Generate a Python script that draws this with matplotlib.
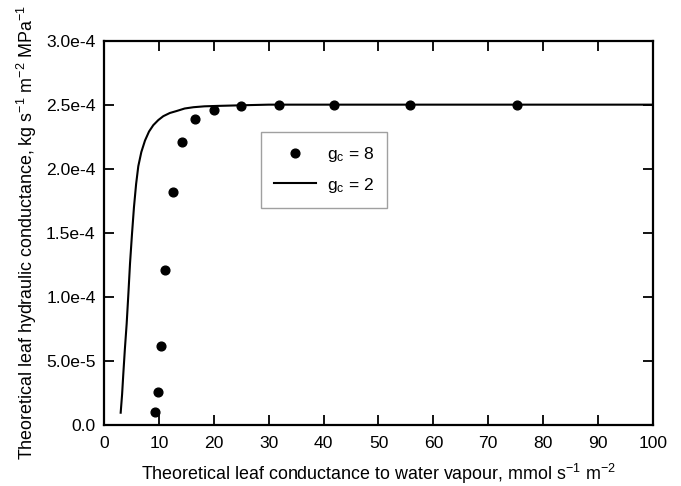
import matplotlib
matplotlib.use("Agg")
import matplotlib.pyplot as plt

plt.rcParams["font.family"] = ["Liberation Sans", "DejaVu Sans"]
plt.rcParams["mathtext.fontset"] = "custom"
plt.rcParams["mathtext.rm"] = "Liberation Sans"
plt.rcParams["mathtext.it"] = "Liberation Sans"

# --- data ---
# g_c = 8 : scattered points
gc8_x = [9.3, 9.8, 10.3, 11.2, 12.5, 14.2, 16.6, 20.1, 25.0, 31.9, 41.9, 55.7, 75.2]
gc8_y = [1.04e-5, 2.6e-5, 6.2e-5, 1.21e-4, 1.82e-4, 2.21e-4, 2.39e-4, 2.46e-4,
         2.49e-4, 2.495e-4, 2.5e-4, 2.5e-4, 2.5e-4]

# g_c = 2 : solid curve
gc2_x = [3.04, 3.3, 3.52, 3.8, 4.13, 4.45, 4.74, 5.1, 5.46, 5.85, 6.25, 6.8,
         7.47, 8.2, 8.98, 9.9, 10.8, 12.0, 13.2, 14.7, 16.3, 18.3, 20.5, 25.0,
         30.0, 50.0, 100.0]
gc2_y = [0.96e-5, 2.4e-5, 4.0e-5, 5.9e-5, 7.9e-5, 1.03e-4, 1.26e-4, 1.49e-4,
         1.70e-4, 1.88e-4, 2.02e-4, 2.13e-4, 2.22e-4, 2.29e-4, 2.34e-4,
         2.38e-4, 2.41e-4, 2.435e-4, 2.45e-4, 2.47e-4, 2.48e-4, 2.487e-4,
         2.49e-4, 2.495e-4, 2.5e-4, 2.5e-4, 2.5e-4]

x_ticks = list(range(0, 101, 10))
y_ticks = [0.0, 5e-5, 1e-4, 1.5e-4, 2e-4, 2.5e-4, 3e-4]
y_labels = ["0.0", "5.0e-5", "1.0e-4", "1.5e-4", "2.0e-4", "2.5e-4", "3.0e-4"]

fig = plt.figure(figsize=(6.81, 4.86), dpi=100)
ax = fig.add_axes([0.1527, 0.1255, 0.8062, 0.791])

ax.plot(gc8_x, gc8_y, "o", color="black", ms=6.3, ls="none",
        label=r"g$_\mathregular{c}$ = 8", zorder=3)
ax.plot(gc2_x, gc2_y, "-", color="black", lw=1.5,
        label=r"g$_\mathregular{c}$ = 2")

ax.set_xlim(0, 100)
ax.set_ylim(0, 3e-4)
ax.set_xticks(x_ticks)
ax.set_yticks(y_ticks)
ax.set_yticklabels(y_labels)

for s in ax.spines.values():
    s.set_linewidth(1.6)
ax.tick_params(direction="in", length=7.5, width=1.3, top=True, right=True,
               labelsize=12.6)
ax.tick_params(axis="y", pad=6)
ax.tick_params(axis="x", pad=8)

ax.set_xlabel(r"Theoretical leaf conductance to water vapour, mmol s$^{\mathregular{-1}}$ m$^{\mathregular{-2}}$",
              fontsize=12.9, labelpad=7.5)
ax.set_ylabel(r"Theoretical leaf hydraulic conductance, kg s$^{\mathregular{-1}}$ m$^{\mathregular{-2}}$ MPa$^{\mathregular{-1}}$",
              fontsize=12.9, labelpad=5)

leg = ax.legend(loc="upper left", bbox_to_anchor=(0.286, 0.762), fontsize=12.6,
                frameon=True, fancybox=False, edgecolor="#888888",
                borderaxespad=0, handlelength=2.4, handletextpad=0.6,
                borderpad=0.75, labelspacing=0.65)
leg.get_frame().set_linewidth(1.0)

fig.savefig("out.png", dpi=100)
